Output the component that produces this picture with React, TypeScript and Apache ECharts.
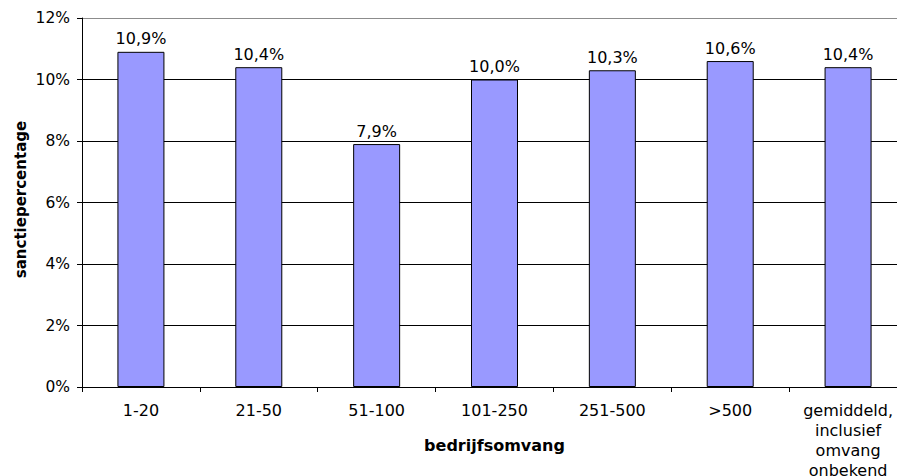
import React, { useEffect, useRef } from "react";
import * as echarts from "echarts";

const categories = [
  "1-20",
  "21-50",
  "51-100",
  "101-250",
  "251-500",
  ">500",
  "gemiddeld,\ninclusief\nomvang\nonbekend",
];
const sanctiePercentages = [10.9, 10.4, 7.9, 10.0, 10.3, 10.6, 10.4];
const yTicks = [0, 2, 4, 6, 8, 10, 12];

const FONT = "'DejaVu Sans', Verdana, sans-serif";

export default function App() {
  const ref = useRef<HTMLDivElement>(null);
  useEffect(() => {
    if (!ref.current) return;
    const chart = echarts.init(ref.current, undefined, { renderer: "svg" });
    chart.setOption({
      animation: false,
      backgroundColor: "#ffffff",
      textStyle: { fontFamily: FONT },
      grid: {
        left: 82,
        top: 18,
        right: -10,
        bottom: 89,
        containLabel: false,
        outerBoundsMode: "none",
      },
      xAxis: {
        type: "category",
        data: categories,
        name: "bedrijfsomvang",
        nameLocation: "middle",
        nameGap: 50,
        nameMoveOverlap: false,
        nameTextStyle: { fontFamily: FONT, fontSize: 16, fontWeight: "bold", color: "#000" },
        axisLine: { lineStyle: { color: "#000", width: 1 } },
        axisTick: { show: true, length: 5, inside: false, lineStyle: { color: "#000" } },
        axisLabel: {
          interval: 0,
          margin: 13,
          fontFamily: FONT,
          fontSize: 16,
          lineHeight: 20,
          color: "#000",
        },
      },
      yAxis: {
        type: "value",
        min: yTicks[0],
        max: yTicks[yTicks.length - 1],
        interval: 2,
        name: "sanctiepercentage",
        nameLocation: "middle",
        nameGap: 54,
        nameRotate: 90,
        nameMoveOverlap: false,
        nameTextStyle: {
          fontFamily: FONT,
          fontSize: 15,
          fontWeight: "bold",
          color: "#000",
          padding: [0, 0, 0, 6],
        },
        axisLine: { show: true, lineStyle: { color: "#000", width: 1 } },
        axisTick: { show: true, length: 5, inside: false, lineStyle: { color: "#000" } },
        axisLabel: {
          margin: 12,
          fontFamily: FONT,
          fontSize: 15.5,
          color: "#000",
          formatter: (v: number) => `${v}%`,
        },
        splitLine: {
          show: true,
          lineStyle: {
            color: ["#000", "#000", "#000", "#000", "#000", "#000", "#8c8c8c"],
            width: 1,
          },
        },
      },
      series: [
        {
          type: "bar",
          data: sanctiePercentages,
          barWidth: 47,
          itemStyle: { color: "#9999ff", borderColor: "#000", borderWidth: 1 },
          label: {
            show: true,
            position: "top",
            distance: 5,
            fontFamily: FONT,
            fontSize: 16,
            color: "#000",
            formatter: (p: any) => `${Number(p.value).toFixed(1).replace(".", ",")}%`,
          },
        },
      ],
    });
    return () => chart.dispose();
  }, []);
  return (
    <div
      ref={ref}
      style={{ position: "absolute", left: 0, top: 0, width: 897, height: 476 }}
    />
  );
}
